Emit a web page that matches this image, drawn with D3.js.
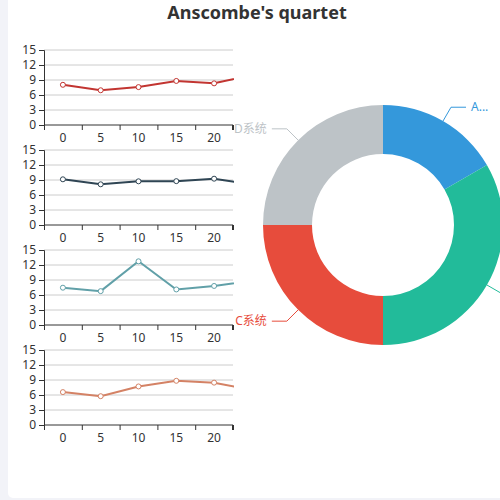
<!DOCTYPE html>
<html>
<head>
<meta charset="utf-8">
<script src="https://cdn.jsdelivr.net/npm/d3@7"></script>
<style>
  html, body { margin: 0; padding: 0; background: #f2f3f8; }
  svg { display: block; font-family: "Noto Sans", "Noto Sans CJK SC", sans-serif; }
</style>
</head>
<body>
<div id="chart"></div>
<script>
// categories along the x axis (only the first five fit the grid)
const categories = ['0', '5', '10', '15', '20', '25', '30', '35', '40', '45', '50']
const yTicks = [0, 3, 6, 9, 12, 15]

// Anscombe's four sets
const seriesI = [8.04, 6.95, 7.58, 8.81, 8.33, 9.96, 7.24, 4.26, 10.84, 4.82, 5.68]
const seriesII = [9.14, 8.14, 8.74, 8.77, 9.26, 8.10, 6.13, 3.10, 9.13, 7.26, 4.74]
const seriesIII = [7.46, 6.77, 12.74, 7.11, 7.81, 8.84, 6.08, 5.39, 8.15, 6.42, 5.73]
const seriesIV = [6.58, 5.76, 7.71, 8.84, 8.47, 7.04, 5.25, 12.50, 5.56, 7.91, 6.89]
const lineColors = ['#c23531', '#2f4554', '#61a0a8', '#d48265']

// donut
const pieNames = ['A系统', 'B系统', 'C系统', 'D系统']
const pieValues = [20, 40, 30, 30]
const pieColors = ['#3498db', '#22bb9a', '#e74c3c', '#bdc3c7']

const W = 500, H = 500
const svg = d3.select('#chart').append('svg').attr('width', W).attr('height', H)

svg.append('rect').attr('width', W).attr('height', H).attr('fill', '#f2f3f8')
svg.append('rect')
    .attr('x', 8).attr('y', -10)
    .attr('width', W).attr('height', 508)
    .attr('rx', 5)
    .attr('fill', '#fff')

svg.append('text')
    .attr('x', 257).attr('y', 19)
    .attr('text-anchor', 'middle')
    .attr('font-size', 18).attr('font-weight', 'bold')
    .attr('fill', '#333')
    .text("Anscombe's quartet")

const grid = { left: 44, right: 233, height: 75 }
const gridTops = [50, 150, 250, 350]
const bandW = (grid.right - grid.left) / 5

const x = d3.scaleBand()
    .domain(categories)
    .range([grid.left, grid.left + bandW * categories.length])

svg.append('defs').append('clipPath').attr('id', 'gridClip')
    .append('rect')
    .attr('x', grid.left).attr('y', 0)
    .attr('width', grid.right - grid.left + 1).attr('height', H)

const allSeries = [seriesI, seriesII, seriesIII, seriesIV]

allSeries.forEach((values, k) => {
    const top = gridTops[k]
    const y = d3.scaleLinear().domain([0, 15]).range([top + grid.height, top])
    const g = svg.append('g')

    // split lines
    g.selectAll('line.split')
        .data(yTicks.slice(1))
        .enter().append('line')
        .attr('class', 'split')
        .attr('x1', grid.left).attr('x2', grid.right)
        .attr('y1', d => y(d)).attr('y2', d => y(d))
        .attr('stroke', '#ccc')

    const yAxis = g.append('g')
        .attr('transform', `translate(${grid.left},0)`)
        .call(d3.axisLeft(y).tickValues(yTicks).tickSize(5).tickPadding(3))
    yAxis.select('.domain').attr('stroke', '#333')
    yAxis.selectAll('.tick line').attr('stroke', '#333')
    yAxis.selectAll('.tick text').attr('fill', '#333').attr('font-size', 12)
        .attr('font-family', '"Noto Sans", sans-serif')

    // x axis: ticks on band edges, labels in the middle of the bands
    const xg = g.append('g').attr('clip-path', 'url(#gridClip)')
    xg.append('line')
        .attr('x1', grid.left).attr('x2', grid.right)
        .attr('y1', top + grid.height).attr('y2', top + grid.height)
        .attr('stroke', '#333')
    xg.selectAll('line.tick')
        .data(categories)
        .enter().append('line')
        .attr('class', 'tick')
        .attr('x1', d => x(d) + 0.5).attr('x2', d => x(d) + 0.5)
        .attr('y1', top + grid.height).attr('y2', top + grid.height + 5)
        .attr('stroke', '#333')
    g.append('line')
        .attr('x1', grid.right - 0.5).attr('x2', grid.right - 0.5)
        .attr('y1', top + grid.height).attr('y2', top + grid.height + 5)
        .attr('stroke', '#333')
    g.selectAll('text.xl')
        .data(categories.filter(c => x(c) + bandW / 2 < grid.right))
        .enter().append('text')
        .attr('class', 'xl')
        .attr('x', d => x(d) + bandW / 2)
        .attr('y', top + grid.height + 17)
        .attr('text-anchor', 'middle')
        .attr('font-size', 12)
        .attr('fill', '#333')
        .text(d => d)

    const pts = values.map((v, i) => ({ c: categories[i], v }))
    const plot = g.append('g').attr('clip-path', 'url(#gridClip)')
    plot.append('path')
        .datum(pts)
        .attr('fill', 'none')
        .attr('stroke', lineColors[k])
        .attr('stroke-width', 2)
        .attr('d', d3.line().x(d => x(d.c) + bandW / 2).y(d => y(d.v)))
    plot.selectAll('circle')
        .data(pts)
        .enter().append('circle')
        .attr('cx', d => x(d.c) + bandW / 2)
        .attr('cy', d => y(d.v))
        .attr('r', 2.5)
        .attr('fill', '#fff')
        .attr('stroke', lineColors[k])
        .attr('stroke-width', 1)
})

// donut
const cx = 383, cy = 225, rOut = 120, rIn = 71
const pie = d3.pie().sort(null)(pieValues)
const arc = d3.arc().innerRadius(rIn).outerRadius(rOut)
const pg = svg.append('g').attr('transform', `translate(${cx},${cy})`)

pg.selectAll('path')
    .data(pie)
    .enter().append('path')
    .attr('d', arc)
    .attr('fill', (d, i) => pieColors[i])

const len1 = 16, len2 = 15
pie.forEach((d, i) => {
    const a = (d.startAngle + d.endAngle) / 2
    const sx = Math.sin(a), sy = -Math.cos(a)
    const p0 = [sx * rOut, sy * rOut]
    const p1 = [sx * (rOut + len1), sy * (rOut + len1)]
    const dir = sx >= 0 ? 1 : -1
    const p2 = [p1[0] + dir * len2, p1[1]]
    pg.append('polyline')
        .attr('points', [p0, p1, p2].map(p => p.join(',')).join(' '))
        .attr('fill', 'none')
        .attr('stroke', pieColors[i])
        .attr('stroke-width', 1)
    const room = W - (cx + p2[0] + 5)
    // a label with no room at all is left out, like the original
    if (dir > 0 && room < 12) return
    const t = pg.append('text')
        .attr('x', p2[0] + dir * 5)
        .attr('y', p2[1])
        .attr('dy', '0.35em')
        .attr('text-anchor', dir > 0 ? 'start' : 'end')
        .attr('font-size', 12)
        .attr('fill', pieColors[i])
        .text(pieNames[i])
    // truncate labels that run past the right edge
    if (dir > 0 && t.node().getComputedTextLength() > room) {
        let s = pieNames[i]
        while (s.length > 1) {
            s = s.slice(0, -1)
            t.text(s + '...')
            if (t.node().getComputedTextLength() <= room) break
        }
    }
})
</script>
</body>
</html>
